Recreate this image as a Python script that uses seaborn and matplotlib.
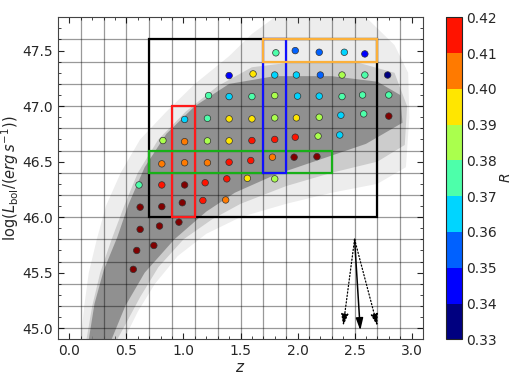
import numpy as np
import pandas as pd
import matplotlib
matplotlib.use("Agg")
import matplotlib.pyplot as plt
import seaborn as sns
from matplotlib.colors import ListedColormap, BoundaryNorm
from matplotlib.patches import Rectangle, Polygon
from matplotlib.ticker import MultipleLocator
from matplotlib.cm import ScalarMappable

# ---------------- data ----------------
# median points (z, logL) and R value class
pt_z = [1.81, 1.98, 2.19, 2.41, 2.59,
        1.40, 1.61, 1.80, 1.99, 2.20, 2.39, 2.59, 2.79,
        1.22, 1.40, 1.60, 1.80, 2.00, 2.19, 2.39, 2.57, 2.80,
        1.01, 1.21, 1.40, 1.60, 1.80, 1.99, 2.19, 2.38, 2.58, 2.80,
        0.82, 1.01, 1.21, 1.40, 1.60, 1.80, 1.98, 2.18, 2.37,
        0.81, 1.01, 1.21, 1.40, 1.59, 1.78, 1.97, 2.17,
        0.61, 0.81, 1.01, 1.19, 1.38, 1.56, 1.80,
        0.62, 0.81, 0.99, 1.17, 1.37,
        0.62, 0.79, 0.96,
        0.59, 0.74,
        0.56]
pt_L = [47.48, 47.50, 47.485, 47.485, 47.47,
        47.275, 47.29, 47.28, 47.28, 47.28, 47.28, 47.28, 47.28,
        47.095, 47.086, 47.086, 47.095, 47.09, 47.09, 47.086, 47.10, 47.10,
        46.88, 46.89, 46.885, 46.885, 46.894, 46.894, 46.90, 46.918, 46.93, 46.91,
        46.69, 46.68, 46.687, 46.687, 46.69, 46.70, 46.72, 46.73, 46.74,
        46.48, 46.49, 46.49, 46.495, 46.51, 46.54, 46.54, 46.545,
        46.29, 46.29, 46.29, 46.31, 46.345, 46.35, 46.345,
        46.09, 46.095, 46.13, 46.15, 46.155,
        45.89, 45.92, 45.955,
        45.70, 45.745,
        45.53]
pt_R = [0.375, 0.355, 0.355, 0.365, 0.345,
        0.345, 0.395, 0.365, 0.365, 0.355, 0.385, 0.375, 0.335,
        0.375, 0.365, 0.375, 0.385, 0.365, 0.365, 0.375, 0.375, 0.375,
        0.365, 0.375, 0.395, 0.395, 0.385, 0.395, 0.385, 0.365, 0.375, 0.43,
        0.385, 0.405, 0.385, 0.395, 0.415, 0.415, 0.415, 0.385, 0.365,
        0.405, 0.405, 0.405, 0.415, 0.415, 0.405, 0.43, 0.43,
        0.375, 0.415, 0.43, 0.415, 0.415, 0.395, 0.385,
        0.43, 0.43, 0.43, 0.415, 0.405,
        0.43, 0.43, 0.43,
        0.43, 0.43,
        0.43]

# envelope of the background quasar cloud (outer halo, medium, dense core)
outer_z = [0.10, 0.13, 0.17, 0.24, 0.32, 0.45, 0.62, 0.85, 1.10, 1.40, 1.60, 1.80,
           2.60, 2.85, 2.97, 2.98, 2.95, 2.70, 2.30, 1.90, 1.50, 1.20, 0.95, 0.75, 0.60, 0.48]
outer_L = [44.9, 45.2, 45.5, 45.8, 46.1, 46.4, 46.7, 46.95, 47.2, 47.45, 47.65, 47.8,
           47.8, 47.55, 47.3, 46.9, 46.45, 46.3, 46.22, 46.12, 46.0, 45.85, 45.65, 45.4, 45.15, 44.9]
mid_z = [0.15, 0.20, 0.27, 0.37, 0.48, 0.60, 0.78, 1.02, 1.30, 1.60, 2.00, 2.50, 2.85,
         2.96, 2.94, 2.70, 2.30, 1.90, 1.50, 1.25, 1.00, 0.78, 0.62, 0.50, 0.42]
mid_L = [44.9, 45.2, 45.5, 45.8, 46.1, 46.4, 46.7, 46.95, 47.18, 47.35, 47.4, 47.4, 47.3,
         47.0, 46.65, 46.5, 46.4, 46.28, 46.12, 45.98, 45.8, 45.55, 45.28, 45.05, 44.9]
core_z = [0.17, 0.22, 0.30, 0.42, 0.52, 0.66, 0.85, 1.10, 1.40, 1.80, 2.30, 2.70, 2.90,
          2.92, 2.60, 2.20, 1.80, 1.45, 1.20, 0.92, 0.66, 0.49, 0.37]
core_L = [44.9, 45.22, 45.52, 45.82, 46.12, 46.45, 46.75, 47.0, 47.2, 47.27, 47.27, 47.22, 47.1,
          46.85, 46.66, 46.52, 46.38, 46.22, 46.05, 45.8, 45.5, 45.2, 44.9]

# bin edges (grid lines)
grid_z = [0.1, 0.3, 0.5, 0.7, 0.9, 1.1, 1.3, 1.5, 1.7, 1.9, 2.1, 2.3, 2.5, 2.7, 2.9]
grid_L = [45.0, 45.2, 45.4, 45.6, 45.8, 46.0, 46.2, 46.4, 46.6, 46.8, 47.0, 47.2, 47.4, 47.6]

# selection boxes: (z0, z1, L0, L1, colour)
box_z0 = [0.7, 0.9, 0.7, 1.7, 1.7]
box_z1 = [2.7, 1.1, 2.3, 1.9, 2.7]
box_L0 = [46.0, 46.0, 46.4, 46.4, 47.4]
box_L1 = [47.6, 47.0, 46.6, 47.6, 47.6]
box_col = ["black", "#ff1a1a", "#18b018", "#1010ff", "#fbb03b"]

# arrows
arrow_start = (2.5, 45.8)
arrow_end_z = [2.40, 2.55, 2.70]
arrow_end_L = [45.02, 44.98, 45.02]
arrow_ls = [":", "-", ":"]

R_bounds = [0.33, 0.34, 0.35, 0.36, 0.37, 0.38, 0.39, 0.40, 0.41, 0.42]

# ---------------- plot ----------------
sns.set_style("ticks")
plt.rcParams["font.family"] = ["DejaVu Sans"]
plt.rcParams["font.size"] = 10

jet = plt.get_cmap("jet")
cols = [jet(i / 9) for i in range(10)]
cmap = ListedColormap(cols[:9])
cmap.set_over(cols[9])
cmap.set_under(cols[0])
norm = BoundaryNorm(R_bounds, 9)

fig = plt.figure(figsize=(5.12, 3.75), dpi=100)
ax = fig.add_axes([0.1133, 0.0952, 0.7129, 0.8587])
cax = fig.add_axes([0.8705, 0.0952, 0.03125, 0.8587])

grey = "#808080"
ax.add_patch(Polygon(list(zip(outer_z, outer_L)), closed=True, fc=grey, ec="none", alpha=0.14, zorder=1))
ax.add_patch(Polygon(list(zip(mid_z, mid_L)), closed=True, fc=grey, ec="none", alpha=0.30, zorder=1))
ax.add_patch(Polygon(list(zip(core_z, core_L)), closed=True, fc=grey, ec="none", alpha=0.78, zorder=1))

for g in grid_z:
    ax.axvline(g, color="k", lw=0.9, alpha=0.4, zorder=2)
for g in grid_L:
    ax.axhline(g, color="k", lw=0.9, alpha=0.4, zorder=2)

for z0, z1, l0, l1, c in zip(box_z0, box_z1, box_L0, box_L1, box_col):
    ax.add_patch(Rectangle((z0, l0), z1 - z0, l1 - l0, fill=False, ec=c, lw=1.6, zorder=3))

df = pd.DataFrame({"z": pt_z, "L": pt_L, "R": pt_R})
pal = {r: cmap(norm(r)) if r <= 0.42 else cols[9] for r in sorted(set(pt_R))}
sns.scatterplot(data=df, x="z", y="L", hue="R", palette=pal, legend=False,
                s=22, edgecolor="#333333", linewidth=0.5, ax=ax, zorder=4)

for ez, eL, ls in zip(arrow_end_z, arrow_end_L, arrow_ls):
    ax.annotate("", xy=(ez, eL), xytext=arrow_start,
                arrowprops=dict(arrowstyle="-|>,head_length=0.6,head_width=0.18", color="k",
                                lw=1.1 if ls == "-" else 0.9,
                                ls=ls, mutation_scale=12, shrinkA=0, shrinkB=0), zorder=5)

ax.set_xlim(-0.1, 3.1)
ax.set_ylim(44.9, 47.8)
ax.set_xticks([0.0, 0.5, 1.0, 1.5, 2.0, 2.5, 3.0])
ax.set_yticks([45.0, 45.5, 46.0, 46.5, 47.0, 47.5])
ax.xaxis.set_minor_locator(MultipleLocator(0.1))
ax.yaxis.set_minor_locator(MultipleLocator(0.1))
ax.tick_params(which="both", direction="in", top=True, right=True, labelsize=10)
ax.tick_params(which="major", length=4, width=0.8)
ax.tick_params(which="minor", length=2, width=0.6)
ax.set_xlabel("$z$", fontsize=11, labelpad=1)
ax.set_ylabel(r"log($L_{\rm bol}$/($erg\,s^{-1}$))", fontsize=10.5, labelpad=1)
for sp in ax.spines.values():
    sp.set_linewidth(0.8)
    sp.set_color("#444444")

sm = ScalarMappable(norm=norm, cmap=cmap)
cb = fig.colorbar(sm, cax=cax, ticks=R_bounds)
cb.ax.set_yticklabels([f"{b:.2f}" for b in R_bounds])
cb.ax.tick_params(labelsize=10, direction="in", length=2, width=0.5)
cb.set_label("$R$", fontsize=10, labelpad=1)
cb.outline.set_linewidth(0.8)

fig.savefig("out.png", dpi=100)
